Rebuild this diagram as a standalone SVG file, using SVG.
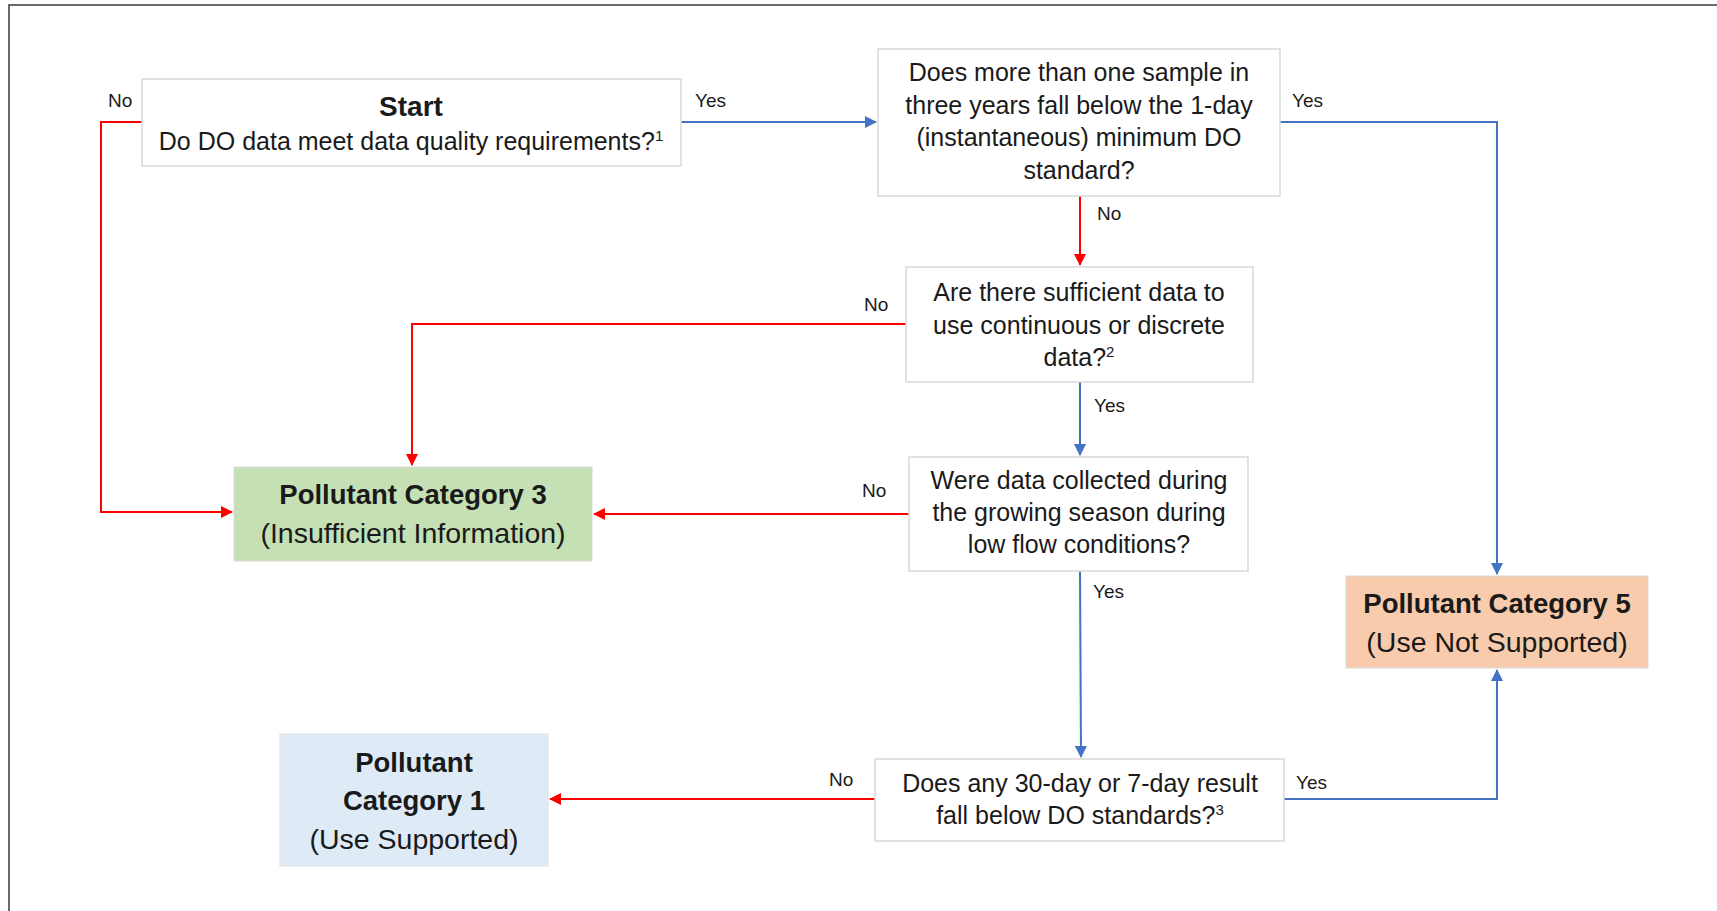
<svg xmlns="http://www.w3.org/2000/svg" width="1717" height="911" viewBox="0 0 1717 911">
<defs>
<style>
text{font-family:"Liberation Sans",Arial,sans-serif;fill:#1a1a1a;text-anchor:middle}
.b{font-weight:bold;font-size:27.5px}
.t{font-size:25px}
.h{font-size:28.5px}
.lbl{font-size:19px;text-anchor:start}
.box{fill:#fff;stroke:#d9d9d9;stroke-width:1.5}
.red{stroke:#ff0000;stroke-width:2;fill:none}
.blue{stroke:#4472c4;stroke-width:2;fill:none}
</style>
<marker id="ar" markerWidth="12" markerHeight="12" refX="11" refY="6" orient="auto" markerUnits="userSpaceOnUse"><path d="M0,0 L12,6 L0,12 Z" fill="#ff0000"/></marker>
<marker id="ab" markerWidth="12" markerHeight="12" refX="11" refY="6" orient="auto" markerUnits="userSpaceOnUse"><path d="M0,0 L12,6 L0,12 Z" fill="#4472c4"/></marker>
</defs>
<rect x="0" y="0" width="1717" height="911" fill="#fff"/>
<rect x="9" y="5" width="1740" height="940" fill="none" stroke="#3a3a3a" stroke-width="1.5"/>

<g id="connectors">
<path class="red" d="M142,122 H101 V512 H232" marker-end="url(#ar)"/>
<path class="blue" d="M681,122 H876" marker-end="url(#ab)"/>
<path class="blue" d="M1280,122 H1497 V574" marker-end="url(#ab)"/>
<path class="red" d="M1080,196 V265" marker-end="url(#ar)"/>
<path class="red" d="M906,324 H412 V465" marker-end="url(#ar)"/>
<path class="blue" d="M1080,382 V455" marker-end="url(#ab)"/>
<path class="red" d="M909,514 H594" marker-end="url(#ar)"/>
<path class="blue" d="M1080,571 L1081,757" marker-end="url(#ab)"/>
<path class="red" d="M875,799 H550" marker-end="url(#ar)"/>
<path class="blue" d="M1284,799 H1497 V670" marker-end="url(#ab)"/>
<text class="lbl" x="108" y="107">No</text>
<text class="lbl" x="695" y="107">Yes</text>
<text class="lbl" x="1292" y="107">Yes</text>
<text class="lbl" x="1097" y="220">No</text>
<text class="lbl" x="864" y="311">No</text>
<text class="lbl" x="1094" y="412">Yes</text>
<text class="lbl" x="862" y="497">No</text>
<text class="lbl" x="1093" y="598">Yes</text>
<text class="lbl" x="829" y="786">No</text>
<text class="lbl" x="1296" y="789">Yes</text>
</g>

<g id="start">
<rect class="box" x="142" y="79" width="539" height="87"/>
<text class="b" x="411" y="116" style="font-size:28px">Start</text>
<text class="t" x="411" y="150">Do DO data meet data quality requirements?<tspan font-size="15" dy="-9">1</tspan></text>
</g>

<g id="q-one-day">
<rect class="box" x="878" y="49" width="402" height="147"/>
<text class="t" x="1079" y="81">Does more than one sample in</text>
<text class="t" x="1079" y="114">three years fall below the 1-day</text>
<text class="t" x="1079" y="146">(instantaneous) minimum DO</text>
<text class="t" x="1079" y="179">standard?</text>
</g>

<g id="q-sufficient">
<rect class="box" x="906" y="267" width="347" height="115"/>
<text class="t" x="1079" y="301">Are there sufficient data to</text>
<text class="t" x="1079" y="334">use continuous or discrete</text>
<text class="t" x="1079" y="366">data?<tspan font-size="15" dy="-9">2</tspan></text>
</g>

<g id="q-growing">
<rect class="box" x="909" y="457" width="339" height="114"/>
<text class="t" x="1079" y="489">Were data collected during</text>
<text class="t" x="1079" y="521">the growing season during</text>
<text class="t" x="1079" y="553">low flow conditions?</text>
</g>

<g id="q-30day">
<rect class="box" x="875" y="759" width="409" height="82"/>
<text class="t" x="1080" y="792">Does any 30-day or 7-day result</text>
<text class="t" x="1080" y="824">fall below DO standards?<tspan font-size="15" dy="-9">3</tspan></text>
</g>

<g id="cat3">
<rect x="234" y="467" width="358" height="94" fill="#c5e0b4" stroke="#d9d9d9" stroke-width="1"/>
<text class="b" x="413" y="504">Pollutant Category 3</text>
<text class="h" x="413" y="543">(Insufficient Information)</text>
</g>

<g id="cat5">
<rect x="1346" y="576" width="302" height="92" fill="#f8cbad" stroke="#d9d9d9" stroke-width="1"/>
<text class="b" x="1497" y="613">Pollutant Category 5</text>
<text class="h" x="1497" y="652">(Use Not Supported)</text>
</g>

<g id="cat1">
<rect x="280" y="734" width="268" height="132" fill="#deebf7" stroke="#e0e0e0" stroke-width="1"/>
<text class="b" x="414" y="772">Pollutant</text>
<text class="b" x="414" y="810">Category 1</text>
<text class="h" x="414" y="849">(Use Supported)</text>
</g>
</svg>
